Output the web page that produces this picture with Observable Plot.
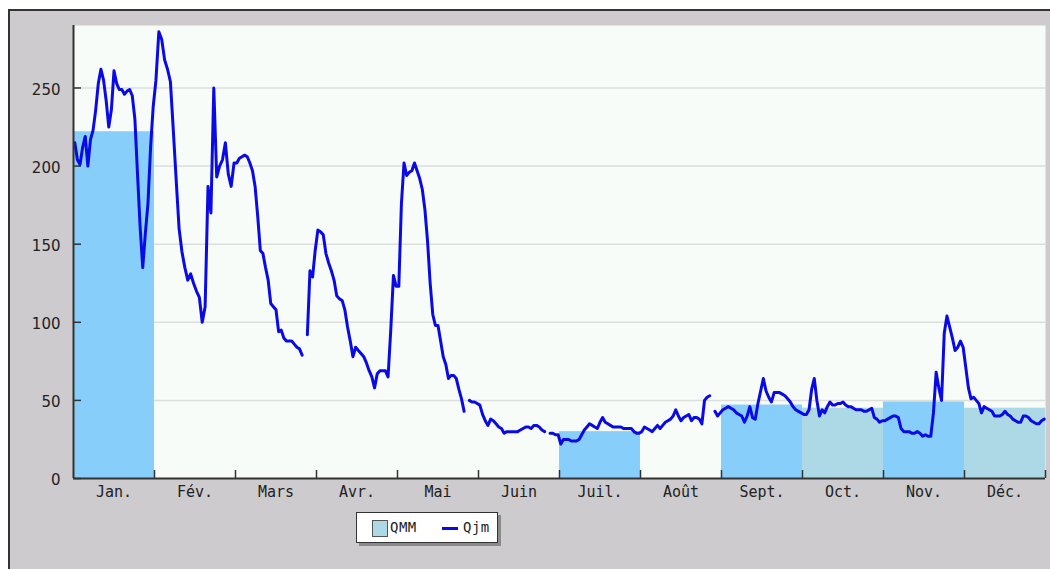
<!DOCTYPE html>
<html><head><meta charset="utf-8">
<script src="https://cdn.jsdelivr.net/npm/d3@7"></script>
<script src="https://cdn.jsdelivr.net/npm/@observablehq/plot@0.6"></script>
<style>
html,body{margin:0;padding:0;background:#fff;width:1050px;height:569px;overflow:hidden;}
#frame{position:absolute;left:8px;top:9px;width:1060px;height:580px;background:#cdcbcd;border-top:2px solid #333;border-left:2px solid #333;}
#chart{position:absolute;left:0;top:0;}
#legend{position:absolute;left:356px;top:512px;width:140px;height:29px;background:#fff;border:1px solid #333;box-shadow:3px 3px 0 #8a8a8a;font-family:"DejaVu Sans Mono",monospace;font-size:14px;color:#222;}
#legend .sw{position:absolute;left:15px;top:7px;width:14px;height:15px;background:#add8e6;border:1px solid #555;}
#legend .t1{position:absolute;left:33px;top:6px;letter-spacing:0.5px;}
#legend .ln{position:absolute;left:85px;top:14px;width:16px;height:3px;background:#0a0ae6;}
#legend .t2{position:absolute;left:106px;top:6px;letter-spacing:0.5px;}
</style></head><body>
<div id="frame"></div>
<div id="chart"></div>
<div id="legend"><span class="sw"></span><span class="t1">QMM</span><span class="ln"></span><span class="t2">Qjm</span></div>
<script>
// ---- data ----
const months = ["Jan.","Fév.","Mars","Avr.","Mai","Juin","Juil.","Août","Sept.","Oct.","Nov.","Déc."];
const yTicks = [0, 50, 100, 150, 200, 250];
// monthly mean flow (QMM); null = not available
const qmm = [222, null, null, null, null, null, 30, null, 47, 45, 49, 45];
// month status: "a" = complete month, "b" = other
const qmmKind = ["a", "", "", "", "", "", "a", "", "a", "b", "a", "b"];
// daily flows (Qjm) per month; null = gap
const qjmJan = [215,204,201,212,219,200,217,223,236,253,262,255,242,225,236,261,253,249,249,246,248,249,245,230,195,161,135,157,176,212,238];
const qjmFeb = [255,286,281,268,262,254,223,191,160,145,135,127,131,125,120,116,100,110,187,170,250,193,200,204,215,195,187,202];
const qjmMar = [202,205,206,207,206,202,197,187,168,146,144,135,127,112,110,108,94,95,90,88,88,88,86,84,83,79,null,92,133,129,146];
const qjmApr = [159,158,156,144,138,133,127,117,115,114,108,97,88,78,84,82,80,78,74,69,65,58,67,69,69,69,65,95,130,123];
const qjmMay = [123,176,202,194,196,197,202,197,192,185,172,152,125,105,98,98,88,78,73,64,66,66,64,57,51,43,null,50,49,49,48];
const qjmJun = [47,41,37,34,38,37,35,33,32,29,30,30,30,30,30,31,32,33,33,32,34,34,33,31,30,null,29,29,28,28];
const qjmJul = [22,25,25,25,24,24,24,25,28,31,33,35,34,33,32,36,39,36,35,34,33,33,33,33,32,32,32,32,30,29,29];
const qjmAug = [30,33,32,31,30,32,34,32,34,36,37,38,40,44,40,37,39,40,41,37,39,39,38,35,50,52,53,null,43,40,42];
const qjmSep = [44,45,46,45,44,42,41,40,36,40,46,39,38,48,56,64,56,52,49,55,55,55,54,53,51,49,46,44,43,42];
const qjmOct = [41,41,44,57,64,50,40,44,42,46,49,47,47,48,48,49,47,46,46,45,44,44,44,43,43,44,45,39,38,36,37];
const qjmNov = [37,38,39,40,40,39,32,30,30,30,29,29,30,29,27,28,27,27,42,68,58,50,93,104,97,90,82,84,88,84];
const qjmDec = [71,58,51,52,50,48,42,46,45,44,43,40,40,40,41,43,41,40,38,37,36,36,40,40,39,37,36,35,35,37,38];

// ---- build tables ----
const qjmMonths = [qjmJan,qjmFeb,qjmMar,qjmApr,qjmMay,qjmJun,qjmJul,qjmAug,qjmSep,qjmOct,qjmNov,qjmDec];
const qjm = [];
qjmMonths.forEach((arr, m) => arr.forEach((v, k) => qjm.push({x: m + (k + 0.5) / arr.length, y: v == null ? NaN : v})));
const bars = qmm.map((v, m) => ({x1: m, x2: m + 1, v, kind: qmmKind[m]})).filter(d => d.v != null);

const W = 1050, H = 569, mL = 73, mR = 5, mT = 25, mB = 91;
const chart = Plot.plot({
  width: W, height: H,
  marginLeft: mL, marginRight: mR, marginTop: mT, marginBottom: mB,
  style: {background: "transparent", color: "#222"},
  x: {domain: [0, 12], axis: null},
  y: {domain: [0, 290], axis: null},
  color: {domain: ["a", "b"], range: ["#87cefa", "#add8e6"]},
  marks: [
    Plot.frame({fill: "#f8fcf8", stroke: null}),
    Plot.gridY(yTicks.filter(v => v > 0), {stroke: "#dcdedc", strokeOpacity: 1, strokeWidth: 1.5}),
    Plot.rectY(bars, {x1: "x1", x2: "x2", y: "v", fill: "kind"}),
    Plot.line(qjm, {x: "x", y: "y", stroke: "#0a0ae6", strokeWidth: 3, strokeLinejoin: "round"}),
    Plot.ruleX([0], {stroke: "#333", strokeWidth: 2}),
    Plot.ruleY([0], {stroke: "#333", strokeWidth: 2}),
    Plot.tickX(d3.range(1, 13), {x: d => d, insetTop: H - mT - mB - 8, stroke: "#333", strokeWidth: 1.5}),
    Plot.tickY(yTicks, {y: d => d, insetRight: W - mL - mR - 8, stroke: "#333", strokeWidth: 1.5}),
    Plot.axisY(yTicks, {tickSize: 0, tickPadding: 13, fontSize: 15, fontFamily: "DejaVu Sans", dy: 2}),
    Plot.axisX(months.map((_, i) => i + 0.5), {tickSize: 0, tickPadding: 8, fontSize: 15, fontFamily: "DejaVu Sans Mono", tickFormat: d => months[Math.floor(d)]})
  ]
});
document.getElementById("chart").appendChild(chart);
</script>
</body></html>
